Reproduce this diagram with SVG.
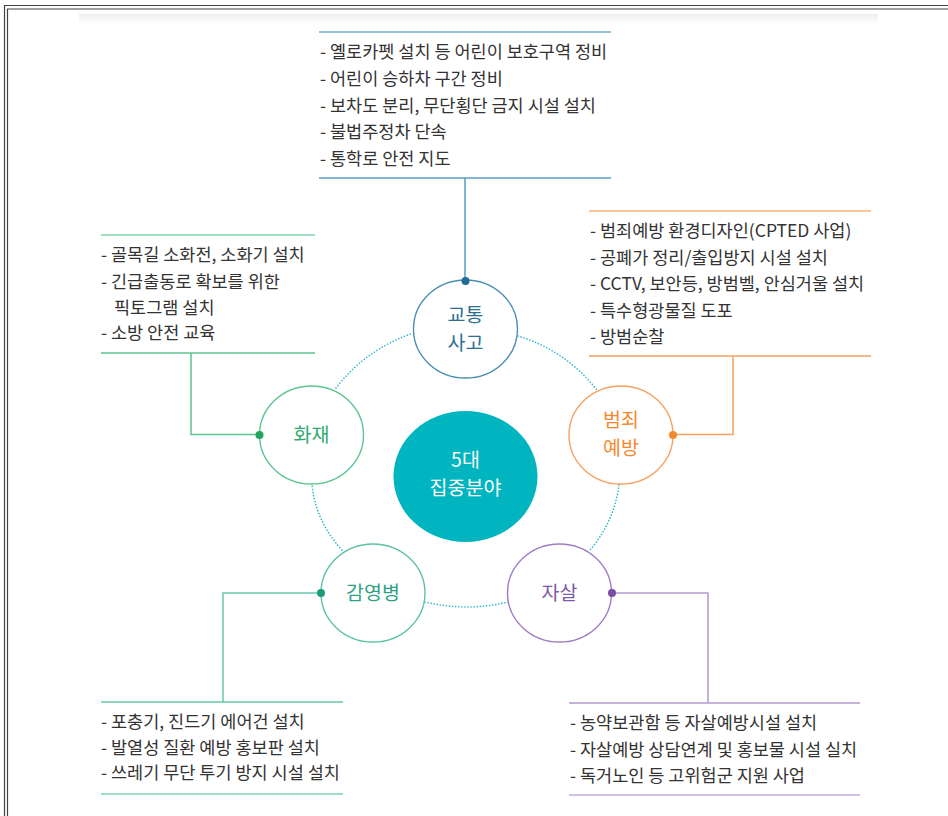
<svg xmlns="http://www.w3.org/2000/svg" width="948" height="816" viewBox="0 0 948 816">
<style>
.t{font-family:"Noto Sans CJK KR","Noto Sans",sans-serif;font-size:17.5px;fill:#333}
.lbl{font-family:"Noto Sans CJK KR","Noto Sans",sans-serif;font-size:19.5px;text-anchor:middle}
.ring{fill:none;stroke:#2bb8c8;stroke-width:1.6;stroke-dasharray:0.1 3;stroke-linecap:round}
.ln{fill:none;stroke-width:1.5}
</style>
<defs>
<linearGradient id="band" x1="0" y1="0" x2="0" y2="1">
<stop offset="0" stop-color="#eeeeee"/>
<stop offset="1" stop-color="#ffffff"/>
</linearGradient>
</defs>
<rect width="948" height="816" fill="#fff"/>
<g id="frame">
<line x1="4" y1="5.5" x2="948" y2="5.5" stroke="#444" stroke-width="1.2"/>
<line x1="7" y1="9" x2="948" y2="9" stroke="#444" stroke-width="1.2"/>
<line x1="4.5" y1="5" x2="4.5" y2="816" stroke="#444" stroke-width="1.2"/>
<line x1="7.5" y1="9" x2="7.5" y2="816" stroke="#444" stroke-width="1.2"/>
<rect x="79" y="14" width="799" height="10" fill="url(#band)"/>
</g>
<g id="connectors">
<path class="ring" d="M518,336 Q565,350 597,390"/>
<path class="ring" d="M619,485 Q614,522 590,550"/>
<path class="ring" d="M508,602 Q467,612 425,602"/>
<path class="ring" d="M342,550 Q316,522 312,485"/>
<path class="ring" d="M336,388 Q365,350 413,333"/>
<path class="ln" stroke="#5a9fc0" d="M465,178 V281"/>
<path class="ln" stroke="#f7a162" d="M733,356 V434.5 H673"/>
<path class="ln" stroke="#5cc58f" d="M191,353 V434.5 H259"/>
<path class="ln" stroke="#66c9ad" d="M321,593 H223 V702"/>
<path class="ln" stroke="#b598d0" d="M612,593 H708 V703"/>
</g>
<g id="center">
<ellipse cx="465.5" cy="476.5" rx="72" ry="65.5" fill="#00b5bf"/>
<text class="lbl" x="465.5" y="467" fill="#fff" font-size="20.5">5대</text>
<text class="lbl" x="465.5" y="495" fill="#fff" font-size="20.5">집중분야</text>
</g>
<g id="traffic">
<ellipse cx="465.5" cy="329" rx="52" ry="49" fill="#fff" stroke="#4a8fb5" stroke-width="1.4"/>
<circle cx="465.5" cy="281" r="4" fill="#1f6d96"/>
<text class="lbl" x="465.5" y="322" fill="#2c6f93">교통</text>
<text class="lbl" x="465.5" y="350" fill="#2c6f93">사고</text>
</g>
<g id="crime">
<ellipse cx="621" cy="435" rx="52" ry="49" fill="#fff" stroke="#f7a162" stroke-width="1.4"/>
<circle cx="673" cy="435" r="4" fill="#f5892f"/>
<text class="lbl" x="621" y="427" fill="#f5892f">범죄</text>
<text class="lbl" x="621" y="455" fill="#f5892f">예방</text>
</g>
<g id="fire">
<ellipse cx="311.5" cy="435" rx="52" ry="49" fill="#fff" stroke="#5cc58f" stroke-width="1.4"/>
<circle cx="259.5" cy="435" r="4" fill="#1fa560"/>
<text class="lbl" x="311.5" y="442" fill="#2faa6c">화재</text>
</g>
<g id="infection">
<ellipse cx="373" cy="593" rx="52" ry="49" fill="#fff" stroke="#5fc1a8" stroke-width="1.4"/>
<circle cx="321" cy="593" r="4" fill="#1f9a7c"/>
<text class="lbl" x="373" y="600" fill="#2f9f86">감영병</text>
</g>
<g id="suicide">
<ellipse cx="559.5" cy="593" rx="52" ry="49" fill="#fff" stroke="#a07cc5" stroke-width="1.4"/>
<circle cx="612" cy="593" r="4" fill="#7a4fa3"/>
<text class="lbl" x="559.5" y="600" fill="#7f58a8">자살</text>
</g>
<g id="traffic-list">
<line x1="319" y1="32" x2="611" y2="32" stroke="#6fb0cf" stroke-width="1.5"/>
<line x1="319" y1="178" x2="611" y2="178" stroke="#5a9fc0" stroke-width="1.5"/>
<text class="t" x="320" y="58">- 옐로카펫 설치 등 어린이 보호구역 정비</text>
<text class="t" x="320" y="85">- 어린이 승하차 구간 정비</text>
<text class="t" x="320" y="112">- 보차도 분리, 무단횡단 금지 시설 설치</text>
<text class="t" x="320" y="138">- 불법주정차 단속</text>
<text class="t" x="320" y="165">- 통학로 안전 지도</text>
</g>
<g id="crime-list">
<line x1="589" y1="211" x2="871" y2="211" stroke="#f7b07a" stroke-width="1.5"/>
<line x1="589" y1="356" x2="871" y2="356" stroke="#f7a162" stroke-width="1.5"/>
<text class="t" x="590" y="237">- 범죄예방 환경디자인(CPTED 사업)</text>
<text class="t" x="590" y="264">- 공폐가 정리/출입방지 시설 설치</text>
<text class="t" x="590" y="290">- CCTV, 보안등, 방범벨, 안심거울 설치</text>
<text class="t" x="590" y="317">- 특수형광물질 도포</text>
<text class="t" x="590" y="343">- 방범순찰</text>
</g>
<g id="fire-list">
<line x1="101" y1="235" x2="315" y2="235" stroke="#7fd3a8" stroke-width="1.5"/>
<line x1="101" y1="353" x2="315" y2="353" stroke="#5cc58f" stroke-width="1.5"/>
<text class="t" x="101" y="261">- 골목길 소화전, 소화기 설치</text>
<text class="t" x="101" y="288">- 긴급출동로 확보를 위한</text>
<text class="t" x="114" y="314">픽토그램 설치</text>
<text class="t" x="101" y="339">- 소방 안전 교육</text>
</g>
<g id="infection-list">
<line x1="101" y1="702" x2="343" y2="702" stroke="#66c9ad" stroke-width="1.5"/>
<line x1="101" y1="794" x2="343" y2="794" stroke="#7dd1bb" stroke-width="1.5"/>
<text class="t" x="101" y="728">- 포충기, 진드기 에어건 설치</text>
<text class="t" x="101" y="754">- 발열성 질환 예방 홍보판 설치</text>
<text class="t" x="101" y="779">- 쓰레기 무단 투기 방지 시설 설치</text>
</g>
<g id="suicide-list">
<line x1="569" y1="703" x2="860" y2="703" stroke="#b598d0" stroke-width="1.5"/>
<line x1="569" y1="795" x2="860" y2="795" stroke="#c3aadb" stroke-width="1.5"/>
<text class="t" x="570" y="729">- 농약보관함 등 자살예방시설 설치</text>
<text class="t" x="570" y="756">- 자살예방 상담연계 및 홍보물 시설 실치</text>
<text class="t" x="570" y="782">- 독거노인 등 고위험군 지원 사업</text>
</g>
</svg>
